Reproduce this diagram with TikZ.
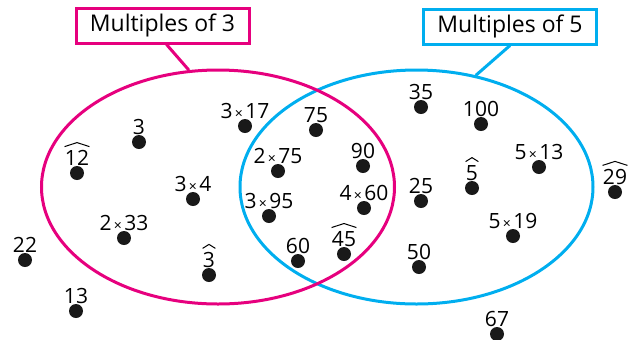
\documentclass[tikz,border=0pt]{standalone}
\usepackage{fontspec}
\setmainfont{Open Sans}
\usetikzlibrary{shapes.geometric}
\definecolor{setpink}{RGB}{230,0,126}
\definecolor{setblue}{RGB}{0,174,239}
\newcommand{\tm}{{\scriptsize\,×\,}}
\begin{document}
\begin{tikzpicture}[x=0.5pt,y=-0.5pt,
  dot/.style={circle,fill=black!90,inner sep=0pt,minimum size=7pt,label distance=1.5pt},
  every label/.style={inner sep=0pt,font=\fontsize{10.5}{12}\selectfont},
  setring/.style={ellipse,draw=#1,line width=1.5pt,inner sep=0pt,minimum width=176.5pt,minimum height=117pt},
  setname/.style={draw=#1,line width=1.5pt,fill=white,inner sep=0pt,minimum width=86.5pt,minimum height=17.5pt,font=\fontsize{11.5}{14}\selectfont},
  hat/.style={line width=0.5pt,line join=round}]
  \useasboundingbox (0,0) rectangle (633,339);
  \node[setring=setblue] (fives) at (416.5,187) {};
  \node[setring=setpink] (threes) at (218,187) {};
  \node[setname=setpink] (threetitle) at (162.5,25.5) {Multiples of 3};
  \node[setname=setblue] (fivetitle) at (510,26.5) {Multiples of 5};
  \draw[setpink,line width=1.5pt] (threetitle.-78) -- (threes.104.6);
  \draw[setblue,line width=1.5pt] (fivetitle.south) -- (fives.62);
  \node[dot,label=above:3] (n3) at (139,142) {};
  \node[dot,label={[name=l12]above:12}] (n12) at (77,173) {};
  \node[dot,label=above:3\tm17] (n3x17) at (245,126) {};
  \node[dot,label=above:3\tm4] (n3x4) at (193,199) {};
  \node[dot,label=above:2\tm33] (n2x33) at (124,238) {};
  \node[dot,label={[name=l3]above:3}] (nh3) at (209,275) {};
  \node[dot,label=above:75] (n75) at (316,130) {};
  \node[dot,label=above:2\tm75] (n2x75) at (278,171) {};
  \node[dot,label=above:90] (n90) at (363,166) {};
  \node[dot,label=above:3\tm95] (n3x95) at (269,216) {};
  \node[dot,label=above:4\tm60] (n4x60) at (364,208) {};
  \node[dot,label=above:60] (n60) at (298,261) {};
  \node[dot,label={[name=l45]above:45}] (n45) at (344,254) {};
  \node[dot,label=above:35] (n35) at (421,107) {};
  \node[dot,label=above:100] (n100) at (481,124) {};
  \node[dot,label=above:5\tm13] (n5x13) at (539,167) {};
  \node[dot,label={[name=l5]above:5}] (nh5) at (472,188) {};
  \node[dot,label=above:25] (n25) at (421,201) {};
  \node[dot,label=above:5\tm19] (n5x19) at (513,236) {};
  \node[dot,label=above:50] (n50) at (419,267) {};
  \node[dot,label={[name=l29]above:29}] (n29) at (615,192) {};
  \node[dot,label=above:22] (n22) at (25,260) {};
  \node[dot,label=above:13] (n13) at (76,311) {};
  \node[dot,label=above:67] (n67) at (497,334) {};
  \foreach \l in {l12,l3,l45,l5,l29}
    \draw[hat] ([yshift=1.5pt]\l.north west) -- ([yshift=3.5pt]\l.north) -- ([yshift=1.5pt]\l.north east);
\end{tikzpicture}
\end{document}
